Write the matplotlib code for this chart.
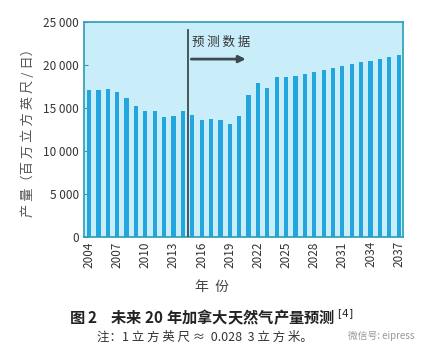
import matplotlib.pyplot as plt
from matplotlib.ticker import FuncFormatter

plt.rcParams['font.family'] = ['Noto Sans CJK SC', 'DejaVu Sans']

# 年份与产量（百万立方英尺/日）
years = list(range(2004, 2038))
production = [17100, 17100, 17170, 16860, 16160, 15230, 14650, 14650, 13950, 14070,
              14650, 14190, 13600, 13720, 13600, 13140, 14070, 16470, 17870, 17330,
              18570, 18570, 18680, 18950, 19190, 19420, 19650, 19880, 20120, 20350,
              20470, 20700, 20930, 21160]
tick_years = years[::3]

fig = plt.figure(figsize=(4.3, 3.54), dpi=100)
ax = fig.add_axes([0.195, 0.3305, 0.742, 0.607])
ax.set_facecolor('#c9eef9')

x = list(range(len(years)))
ax.bar(x, production, width=0.45, color='#22a6dd', zorder=2)

ax.set_xlim(-0.55, len(years) - 0.55)
ax.set_ylim(0, 25000)
ax.set_yticks(range(0, 25001, 5000))
ax.yaxis.set_major_formatter(FuncFormatter(lambda v, p: f"{int(v):,}".replace(",", " ")))
ax.set_xticks([years.index(y) for y in tick_years])
ax.set_xticklabels([str(y) for y in tick_years], rotation=90, fontsize=8.5, color='#333333')
ax.tick_params(axis='y', direction='in', length=3, labelsize=8.5, labelcolor='#333333', color='#2a9db5')
ax.tick_params(axis='x', length=0, pad=3)
for s in ax.spines.values():
    s.set_color('#2a9db5')
    s.set_linewidth(1.2)

# 预测分界线与箭头
split = 10.6
ax.plot([split, split], [0, 24100], color='#3f4a50', lw=1.3, zorder=3)
ax.annotate('', xy=(17.0, 20700), xytext=(split, 20700),
            arrowprops=dict(arrowstyle='-|>', color='#3f4a50', lw=2, mutation_scale=10), zorder=3)
ax.text(split + 0.35, 22600, '预 测 数 据', fontsize=9, color='#333333', va='center')

ax.set_ylabel('产 量（百 万 立 方 英 尺 / 日）', fontsize=9.5, color='#555555', labelpad=6)
fig.text(0.493, 0.189, '年  份', fontsize=10, color='#444444', ha='center', va='center')
fig.text(0.493, 0.101, '图 2    未来 20 年加拿大天然气产量预测 $^{[4]}$', fontsize=11,
         fontweight='bold', color='#222222', ha='center', va='center')
fig.text(0.225, 0.048, '注：1 立 方 英 尺 ≈  0.028  3 立 方 米。', fontsize=9, color='#333333',
         ha='left', va='center')
fig.text(0.81, 0.052, '微信号: eipress', fontsize=7, color='#999999', ha='left', va='center')

fig.savefig('out.png', dpi=100)
